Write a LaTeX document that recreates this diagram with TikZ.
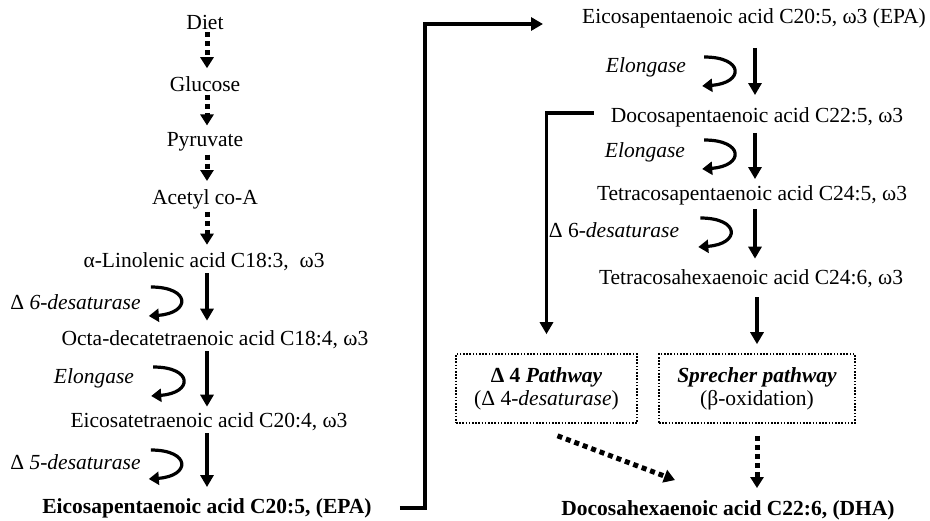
\documentclass[tikz,border=0pt]{standalone}
\usepackage{fontspec}
\setmainfont{Liberation Serif}
\usetikzlibrary{arrows.meta,calc}
\begin{document}
\begin{tikzpicture}[x=1pt,y=-1pt,
  every node/.style={inner sep=0pt, text=black, font=\fontsize{21.5}{23}\selectfont},
  arr/.style={line width=3.5pt, -{Triangle[width=13pt,length=12pt]}},
  darr/.style={line width=5pt, dash pattern=on 5pt off 4pt, -{Triangle[width=13pt,length=11pt]}},
  pbox/.style={draw, line width=1.6pt, dash pattern=on 1.6pt off 1.6pt, minimum height=69pt, align=center},
  enzloop/.pic={\draw[line width=3.2pt, -{Triangle[width=13pt,length=10pt]}] (0,0) .. controls (40,0) and (40,26) .. (-2,29);}
]
\useasboundingbox (0,0) rectangle (930,520);

% left column
\node (diet) at (205,22) {Diet};
\node (glu) at (205,84) {Glucose};
\node (pyr) at (205,142) {Pyruvate};
\node (acc) at (205,199) {Acetyl co-A};
\node (ala) at (204,262) {α-Linolenic acid C18:3,\ \ ω3};
\node (octa) at (215,340) {Octa-decatetraenoic acid C18:4, ω3};
\node (eta) at (209,422) {Eicosatetraenoic acid C20:4, ω3};
\node (epal) at (207,508) {\bfseries Eicosapentaenoic acid C20:5, (EPA)};

\node (ld6) at (75.5,302) {Δ \itshape 6-desaturase};
\node (lel) at (94,378) {\itshape Elongase};
\node (ld5) at (75.5,462) {Δ \itshape 5-desaturase};

\coordinate (lx) at (207,0);
\draw[darr] (diet.south -| lx) ++(0,3) -- ([yshift=8]glu.north -| lx);
\draw[darr] (glu.south -| lx) ++(0,3) -- ([yshift=7]pyr.north -| lx);
\draw[darr] (pyr.south -| lx) ++(0,3) -- ([yshift=8]acc.north -| lx);
\draw[darr] (acc.south -| lx) ++(0,3) -- ([yshift=8]ala.north -| lx);
\draw[arr] (ala.south -| lx) ++(0,2) -- ([yshift=10]octa.north -| lx);
\draw[arr] (octa.south -| lx) ++(0,2) -- ([yshift=6]eta.north -| lx);
\draw[arr] (eta.south -| lx) ++(0,2) -- ([yshift=11]epal.north -| lx);

\pic at ([xshift=10,yshift=15]ld6.east) {enzloop};
\pic at ([xshift=19,yshift=11]lel.east) {enzloop};
\pic at ([xshift=10,yshift=12]ld5.east) {enzloop};

% right column
\node (epar) at (754,18) {Eicosapentaenoic acid C20:5, ω3 (EPA)};
\node (dpa) at (757,117) {Docosapentaenoic acid C22:5, ω3};
\node (tpa) at (752,195) {Tetracosapentaenoic acid C24:5, ω3};
\node (tha) at (751,279) {Tetracosahexaenoic acid C24:6, ω3};
\node (rel1) at (646,67) {\itshape Elongase};
\node (rel2) at (645,152) {\itshape Elongase};
\node (rd6) at (614,230) {Δ 6-\itshape desaturase};

\coordinate (rx) at (755,0);
\draw[arr] (epar.south -| rx) ++(0,20) -- ([yshift=12]dpa.north -| rx);
\draw[arr] (dpa.south -| rx) ++(0,6) -- ([yshift=6]tpa.north -| rx);
\draw[arr] (tpa.south -| rx) ++(0,4) -- ([yshift=11]tha.north -| rx);

\pic at ([xshift=18,yshift=10]rel1.east) {enzloop};
\pic at ([xshift=19,yshift=12]rel2.east) {enzloop};
\pic at ([xshift=21,yshift=12]rd6.east) {enzloop};

% boxes
\node[pbox, minimum width=181pt] (d4) at (546.5,388.5) {{\bfseries Δ 4 \itshape Pathway}\\(Δ 4-\textit{desaturase})};
\node[pbox, minimum width=196pt] (spr) at (757,388.5) {{\bfseries\itshape Sprecher pathway}\\(β-oxidation)};
\node (dha) at (728,510) {\bfseries Docosahexaenoic acid C22:6, (DHA)};

\draw[arr] (tha.south -| spr.north) ++(0,9) -- ([yshift=9]spr.north);
\draw[darr] ([yshift=-12]spr.south) -- ([yshift=12]dha.north -| spr.south);
\draw[darr] ([xshift=11,yshift=-12]d4.south) -- ([xshift=-53,yshift=20]dha.north);

% connectors
\draw[arr] ([xshift=-17,yshift=4]dpa.west) -| ([yshift=19]d4.north);
\draw[arr] ([xshift=28]epal.east) -- ++(25,0) |- ([xshift=-39,yshift=-6]epar.west);
\end{tikzpicture}
\end{document}
